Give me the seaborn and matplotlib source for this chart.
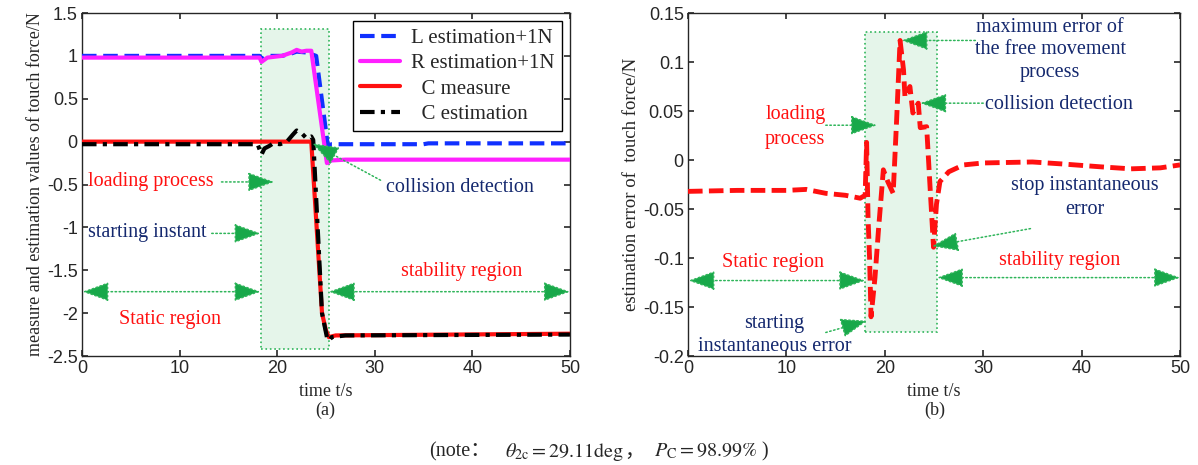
import matplotlib.pyplot as plt
import numpy as np
import pandas as pd
import seaborn as sns

# ---- data ----
# (a) left panel
t_L = [0, 18.2, 18.5, 19.0, 20.5, 21.5, 22.0, 23.0, 24.0, 25.2, 25.6, 35.0, 35.5, 50]
L_est = [1.0, 1.0, 0.96, 1.0, 1.0, 1.03, 1.05, 1.04, 1.0, -0.05, -0.03, -0.03, -0.02, -0.02]

t_R = [0, 18.2, 18.4, 19.0, 20.5, 21.5, 22.0, 22.5, 23.0, 23.5, 25.1, 25.5, 27.0, 50]
R_est = [0.98, 0.98, 0.93, 0.98, 1.0, 1.04, 1.07, 1.05, 1.06, 1.06, -0.25, -0.22, -0.21, -0.21]

t_Cm = [0, 23.5, 24.6, 25.0, 25.3, 26.0, 50]
C_meas = [0, 0, -2.0, -2.2, -2.28, -2.26, -2.24]

t_Ce = [0, 18.0, 18.4, 18.7, 19.2, 19.6, 20.3, 21.0, 21.6, 22.0, 22.5, 23.0, 23.5, 23.7,
        24.6, 25.1, 25.3, 25.6, 27.0, 50]
C_est = [-0.03, -0.03, -0.15, -0.08, -0.05, -0.02, -0.03, 0.0, 0.08, 0.13, 0.10, 0.04, 0.06,
         0.02, -2.0, -2.28, -2.32, -2.28, -2.26, -2.25]

# (b) right panel
t_err = [0, 5, 10, 12, 14, 16, 17.5, 18.0, 18.15, 18.3, 18.45, 18.6, 19.0, 19.35, 19.85,
         20.3, 20.85, 21.2, 21.55, 21.9, 22.05, 22.55, 22.85, 23.4, 23.6, 24.25, 24.6,
         24.95, 25.25, 25.6, 26.5, 28, 30, 35, 38, 42, 45, 48, 50]
err = [-0.032, -0.031, -0.031, -0.030, -0.034, -0.036, -0.039, -0.036, 0.018, -0.06,
       -0.10, -0.16, -0.12, -0.072, -0.01, -0.022, -0.034, 0.041, 0.122, 0.092, 0.064,
       0.075, 0.048, 0.058, 0.033, 0.034, -0.028, -0.089, -0.045, -0.022, -0.012, -0.005,
       -0.003, -0.002, -0.004, -0.007, -0.009, -0.008, -0.005]

box_a = (18.3, 25.3, -2.42, 1.31)
box_b = (18.0, 25.3, -0.176, 0.131)

sns.set_style("ticks")
serif = ["Liberation Serif", "DejaVu Serif"]
plt.rcParams["font.family"] = ["Liberation Sans", "DejaVu Sans"]
plt.rcParams["mathtext.fontset"] = "stix"

GREEN = "#18a84a"
DOT = "#2fb55a"
RED = "#ff1010"
NAVY = "#14286e"
TFS = 14.5
HEAD = "head_length=1.65,head_width=0.6"

fig = plt.figure(figsize=(11.98, 4.65), dpi=100)
ax1 = fig.add_axes([0.0684, 0.2344, 0.4073, 0.7376])
ax2 = fig.add_axes([0.5743, 0.2344, 0.4107, 0.7376])


def style_axis(ax):
    ax.tick_params(direction="in", top=True, right=True, length=4, width=1.2,
                   labelsize=13, pad=3)
    for s in ax.spines.values():
        s.set_linewidth(1.0)
        s.set_visible(True)


def region_box(ax, b):
    x0, x1, y0, y1 = b
    ax.add_patch(plt.Rectangle((x0, y0), x1 - x0, y1 - y0, facecolor="#e5f5ea",
                               edgecolor=DOT, linestyle=":", linewidth=1.2, zorder=0))


def arrow(ax, tail, tip, style="-|>"):
    ax.annotate("", xy=tip, xytext=tail,
                arrowprops=dict(arrowstyle=f"{style},{HEAD}", color=GREEN, lw=1.1,
                                linestyle=":", shrinkA=0, shrinkB=0, ec=DOT, fc=GREEN),
                zorder=6)


def txt(ax, x, y, s, color, ha="left", va="center", ls=1.2):
    ax.text(x, y, s, color=color, fontsize=TFS, family=serif, ha=ha, va=va,
            linespacing=ls, zorder=7)


# ---- panel (a) ----
region_box(ax1, box_a)
sns.lineplot(x=t_L, y=L_est, ax=ax1, color="#1030ff", lw=3, label="L estimation+1N", zorder=3)
ax1.lines[-1].set_linestyle((0, (3.5, 1.6)))
sns.lineplot(x=t_R, y=R_est, ax=ax1, color="#ff20ff", lw=3, label="R estimation+1N", zorder=3)
sns.lineplot(x=t_Cm, y=C_meas, ax=ax1, color=RED, lw=3, label="  C measure", zorder=4)
sns.lineplot(x=t_Ce, y=C_est, ax=ax1, color="black", lw=3, label="  C estimation", zorder=5)
ax1.lines[-1].set_linestyle((0, (3.5, 1.5, 1, 1.5)))

ax1.set_xlim(0, 50)
ax1.set_ylim(-2.5, 1.5)
ax1.set_xticks(np.arange(0, 51, 10))
ax1.set_yticks(np.arange(-2.5, 1.51, 0.5))
ax1.set_yticklabels(["-2.5", "-2", "-1.5", "-1", "-0.5", "0", "0.5", "1", "1.5"])
style_axis(ax1)
ax1.set_xlabel("time t/s", family=serif, fontsize=13, labelpad=4)
ax1.set_ylabel("measure and estimation values of touch force/N", family=serif,
               fontsize=13, labelpad=2)
leg = ax1.legend(loc="upper right", bbox_to_anchor=(0.9836, 0.9767), frameon=True,
                 fancybox=False, edgecolor="black", framealpha=1,
                 prop={"family": serif, "size": 15}, handlelength=1.9,
                 labelspacing=0.28, borderpad=0.35, handletextpad=0.55,
                 borderaxespad=0)
leg.get_frame().set_linewidth(1.0)

txt(ax1, 0.6, -0.46, "loading process", RED)
arrow(ax1, (14.3, -0.47), (19.7, -0.47))
txt(ax1, 0.6, -1.06, "starting instant", NAVY)
arrow(ax1, (13.3, -1.07), (18.3, -1.07))
arrow(ax1, (30.6, -0.45), (23.6, -0.02))
txt(ax1, 38.7, -0.54, "collision detection", NAVY, ha="center")
for x0, x1 in [(0.05, 18.3), (25.3, 50)]:
    arrow(ax1, (x1, -1.75), (x0, -1.75), style="<|-|>")
txt(ax1, 9.0, -2.08, "Static region", RED, ha="center")
txt(ax1, 38.9, -1.51, "stability region", RED, ha="center")

# ---- panel (b) ----
region_box(ax2, box_b)
sns.lineplot(x=t_err, y=err, ax=ax2, color=RED, lw=3.5, zorder=3)
ax2.lines[-1].set_linestyle((0, (3.0, 1.3)))
ax2.set_xlim(0, 50)
ax2.set_ylim(-0.2, 0.15)
ax2.set_xticks(np.arange(0, 51, 10))
ax2.set_yticks(np.arange(-0.2, 0.151, 0.05))
ax2.set_yticklabels(["-0.2", "-0.15", "-0.1", "-0.05", "0", "0.05", "0.1", "0.15"])
style_axis(ax2)
ax2.set_xlabel("time t/s", family=serif, fontsize=13, labelpad=4)
ax2.set_ylabel("estimation error of  touch force/N", family=serif, fontsize=13.5,
               labelpad=2)

txt(ax2, 36.8, 0.1125, "maximum error of\nthe free movement\nprocess", NAVY, ha="center",
    ls=1.25)
arrow(ax2, (29.2, 0.122), (21.7, 0.122))
txt(ax2, 30.2, 0.057, "collision detection", NAVY)
arrow(ax2, (30.0, 0.058), (23.6, 0.058))
txt(ax2, 10.9, 0.034, "loading\nprocess", RED, ha="center", ls=1.45)
arrow(ax2, (14.0, 0.0355), (19.2, 0.0355))
txt(ax2, 40.3, -0.038, "stop instantaneous\nerror", NAVY, ha="center", ls=1.35)
arrow(ax2, (34.8, -0.07), (24.8, -0.088))
for x0, x1, yy in [(0.05, 18.0, -0.123), (25.3, 50, -0.12)]:
    arrow(ax2, (x1, yy), (x0, yy), style="<|-|>")
txt(ax2, 8.6, -0.105, "Static region", RED, ha="center")
txt(ax2, 37.8, -0.103, "stability region", RED, ha="center")
txt(ax2, 8.8, -0.1785, "starting\ninstantaneous error", NAVY, ha="center", ls=1.3)
arrow(ax2, (14.0, -0.176), (18.2, -0.164))

fig.text(0.2715, 0.117, "(a)", family=serif, fontsize=13, ha="center", va="center")
fig.text(0.7805, 0.117, "(b)", family=serif, fontsize=13, ha="center", va="center")

# note line, assembled from pieces so the full-width signs get a CJK font
cjk = ["Liberation Serif", "Noto Sans CJK SC"]
pieces = [("(note：", cjk, 0.012), (r"$\theta_{2\mathrm{c}}=29.11\mathrm{deg}$", cjk, 0.0),
          ("，", cjk, 0.008), (r"$P_{\mathrm{C}}=98.99\%$", cjk, 0.0), (" )", cjk, 0.0)]
renderer = fig.canvas.get_renderer()
items = []
for s, fam, gap in pieces:
    t = fig.text(0, 0.018, s, family=fam, fontsize=14.5, ha="left", va="baseline")
    w = t.get_window_extent(renderer).width / fig.bbox.width
    items.append((t, w, gap))
total = sum(w + g for _, w, g in items)
x = 0.5 - total / 2
for t, w, g in items:
    t.set_x(x)
    x += w + g

fig.savefig("out.png", dpi=100)
